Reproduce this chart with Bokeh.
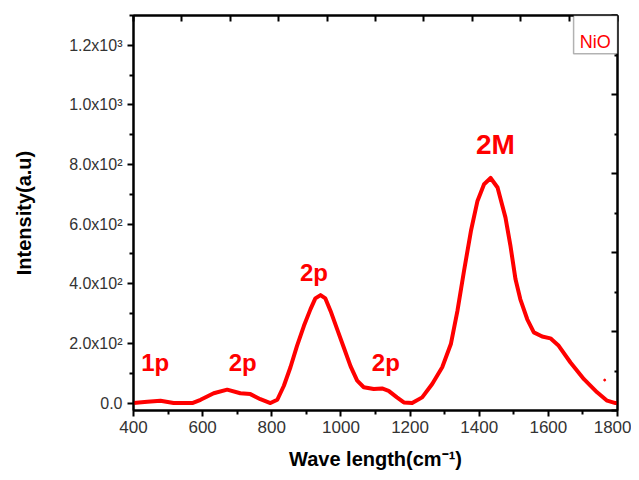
from bokeh.plotting import figure
from bokeh.models import (Range1d, LinearAxis, FixedTicker, Label, BoxAnnotation)
from bokeh.embed import file_html
from bokeh.resources import INLINE

# Raman spectrum of NiO
wavenumber = [400, 440, 478, 516, 570, 594, 632, 671, 709, 738, 767, 796, 816, 835,
              854, 873, 893, 912, 926, 941, 955, 970, 989, 1008, 1028, 1047, 1066,
              1095, 1119, 1138, 1162, 1182, 1206, 1235, 1264, 1293, 1318, 1337, 1356,
              1376, 1395, 1414, 1433, 1453, 1476, 1490, 1505, 1519, 1539, 1558, 1582,
              1606, 1630, 1664, 1703, 1741, 1770, 1794, 1800]
intensity = [0, 4, 8, 0, 0, 11, 33, 45, 33, 30, 13, 0, 11, 58,
             120, 192, 259, 315, 351, 362, 351, 309, 248, 187, 123, 75, 53,
             47, 49, 41, 19, 2, 0, 19, 64, 120, 198, 309, 443,
             577, 678, 734, 755, 723, 622, 530, 415, 348, 281, 237, 223,
             217, 192, 136, 80, 36, 8, 0, 0]
stray_x = [1763]
stray_y = [77]

# peak labels
peak_names = ["1p", "2p", "2p", "2p", "2M"]
peak_x = [463, 716, 922, 1130, 1447]
peak_y = [137, 137, 437, 137, 867]
peak_size = ["24px", "24px", "24px", "24px", "28px"]

x_ticks = [400, 600, 800, 1000, 1200, 1400, 1600, 1800]
x_minor = [500, 700, 900, 1100, 1300, 1500, 1700]
y_ticks = [0, 200, 400, 600, 800, 1000, 1200]
y_minor = [100, 300, 500, 700, 900, 1100, 1300]
y_labels = ["0.0", "2.0x10\u00b2", "4.0x10\u00b2", "6.0x10\u00b2", "8.0x10\u00b2",
            "1.0x10\u00b3", "1.2x10\u00b3"]
top_ticks = [400, 540, 680, 820, 960, 1100, 1240, 1380, 1520, 1660, 1800]
right_major = [-25, 240, 505, 770, 1035, 1300]
right_minor = [107.5, 372.5, 637.5, 902.5, 1167.5]

FONT = "Liberation Sans"
RED = "#ff0000"

p = figure(width=631, height=472, output_backend="svg", toolbar_location=None,
           x_range=Range1d(400, 1800), y_range=Range1d(-25, 1300),
           min_border_left=133, min_border_right=14, min_border_top=15,
           min_border_bottom=61, background_fill_color="white",
           border_fill_color="white", outline_line_color="black",
           outline_line_width=2)
p.grid.visible = False

# bottom axis
xa = p.xaxis[0]
xa.ticker = FixedTicker(ticks=x_ticks, minor_ticks=x_minor)
xa.axis_label = "Wave length(cm\u207b\u00b9)"
xa.axis_label_text_font = FONT
xa.axis_label_text_font_style = "bold"
xa.axis_label_text_font_size = "20px"
xa.axis_label_text_color = "black"
xa.axis_label_standoff = 12
xa.major_label_text_font = FONT
xa.major_label_text_font_size = "17px"
xa.major_label_text_color = "#333333"
xa.major_label_standoff = 4
xa.axis_line_width = 2
xa.major_tick_line_width = 2
xa.minor_tick_line_width = 2
xa.major_tick_out = 6
xa.major_tick_in = 0
xa.minor_tick_out = 4
xa.minor_tick_in = 0

# left axis
ya = p.yaxis[0]
ya.ticker = FixedTicker(ticks=y_ticks, minor_ticks=y_minor)
ya.major_label_overrides = {t: l for t, l in zip(y_ticks, y_labels)}
ya.axis_label = "Intensity(a.u)"
ya.axis_label_text_font = FONT
ya.axis_label_text_font_style = "bold"
ya.axis_label_text_font_size = "20px"
ya.axis_label_text_color = "black"
ya.axis_label_standoff = 31
ya.major_label_text_font = FONT
ya.major_label_text_font_size = "16px"
ya.major_label_text_color = "#333333"
ya.major_label_standoff = 5
ya.axis_line_width = 2
ya.major_tick_line_width = 2
ya.minor_tick_line_width = 2
ya.major_tick_out = 6
ya.major_tick_in = 0
ya.minor_tick_out = 4
ya.minor_tick_in = 0

# top axis (ticks only, pointing inward)
top = LinearAxis(ticker=FixedTicker(ticks=top_ticks),
                 major_label_text_font_size="1px", major_label_text_color=None,
                 major_label_standoff=0,
                 axis_line_width=2, major_tick_line_width=2,
                 major_tick_in=6, major_tick_out=0,
                 minor_tick_line_color=None)
p.add_layout(top, "above")

# right axis (ticks only, pointing inward)
right = LinearAxis(ticker=FixedTicker(ticks=right_major, minor_ticks=right_minor),
                   major_label_text_font_size="1px", major_label_text_color=None,
                   major_label_standoff=0,
                   axis_line_width=2, major_tick_line_width=2,
                   minor_tick_line_width=2,
                   major_tick_in=6, major_tick_out=0,
                   minor_tick_in=3, minor_tick_out=0)
p.add_layout(right, "right")

# spectrum
p.line(wavenumber, intensity, line_color=RED, line_width=4, line_join="round")
p.scatter(stray_x, stray_y, size=2, color=RED)

for name, x, y, fs in zip(peak_names, peak_x, peak_y, peak_size):
    p.add_layout(Label(x=x, y=y, text=name, text_align="center",
                       text_baseline="alphabetic", text_font=FONT,
                       text_font_style="bold", text_font_size=fs,
                       text_color=RED))

# sample legend box
p.add_layout(BoxAnnotation(left=1673, right=1800, bottom=1172, top=1300,
                           fill_color="white", fill_alpha=1,
                           line_color="black", line_width=1.5))
p.add_layout(Label(x=1736, y=1212, text="NiO", text_align="center",
                   text_baseline="alphabetic", text_font=FONT,
                   text_font_size="18px", text_color=RED))

open("out.html", "w").write(file_html(p, INLINE))
